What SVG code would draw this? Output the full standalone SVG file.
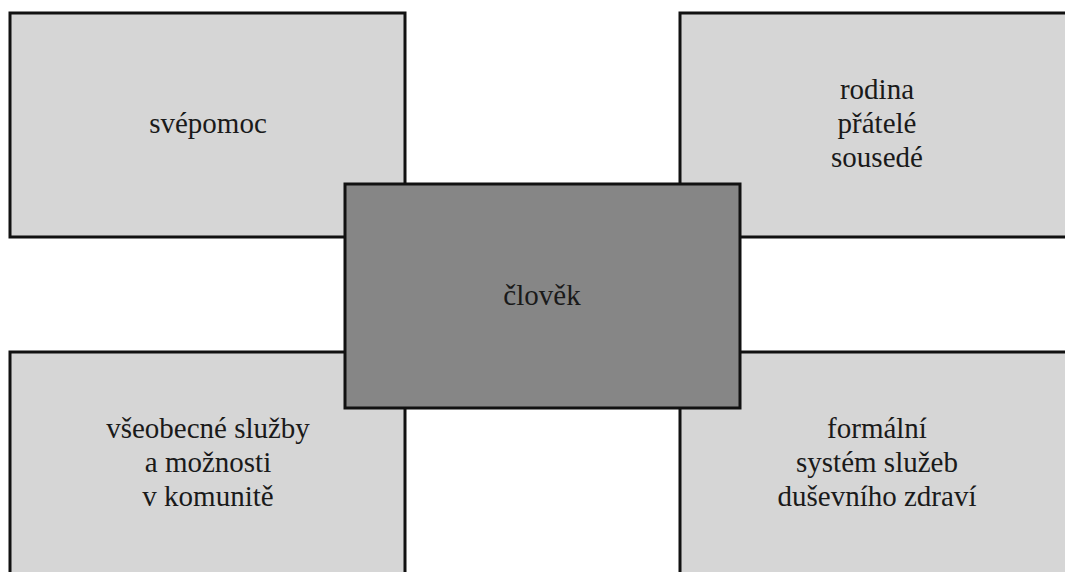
<svg xmlns="http://www.w3.org/2000/svg" width="1065" height="572" viewBox="0 0 1065 572">
<style>
.b{fill:#d6d6d6;stroke:#111;stroke-width:3}
.c{fill:#868686;stroke:#111;stroke-width:3}
text{font-family:"Liberation Serif","Times New Roman",serif;font-size:29px;fill:#1a1a1a;text-anchor:middle}
</style>
<rect width="1065" height="572" fill="#fff"/>
<g id="svepomoc"><rect class="b" x="10" y="13" width="395" height="224"/><text x="208" y="133">svépomoc</text></g>
<g id="rodina"><rect class="b" x="680" y="13" width="395" height="224"/><text x="877" y="99">rodina</text><text x="877" y="133">přátelé</text><text x="877" y="167">sousedé</text></g>
<g id="vseobecne"><path class="b" d="M10 572V352H405V572"/><text x="208" y="438">všeobecné služby</text><text x="208" y="472">a možnosti</text><text x="208" y="506">v komunitě</text></g>
<g id="formalni"><path class="b" d="M680 572V352H1075V572"/><text x="877" y="438">formální</text><text x="877" y="472">systém služeb</text><text x="877" y="506">duševního zdraví</text></g>
<g id="clovek"><rect class="c" x="345" y="184" width="395" height="224"/><text x="542" y="305">člověk</text></g>
<g id="connectors"/>
</svg>
